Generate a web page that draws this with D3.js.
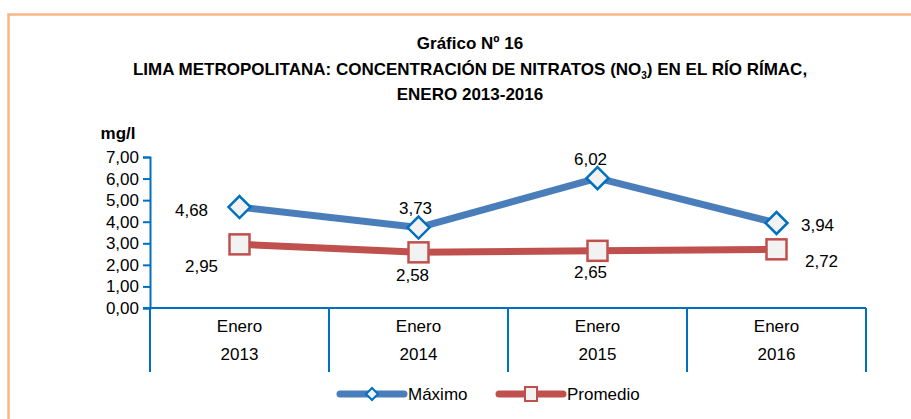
<!DOCTYPE html>
<html>
<head>
<meta charset="utf-8">
<script src="https://cdn.jsdelivr.net/npm/d3@7"></script>
<style>
	body { margin: 0; background: #ffffff; }
	svg text { font-family: "Liberation Sans Narrow", "Arial Narrow", "Liberation Sans", Arial, sans-serif; fill: #000; }
</style>
</head>
<body>
<div id="chart"></div>
<script>
// categories on the x axis (two lines each)
var months = ["Enero", "Enero", "Enero", "Enero"];
var years = ["2013", "2014", "2015", "2016"];

// series values (mg/l)
var maximo = [4.68, 3.73, 6.02, 3.94];
var promedio = [2.95, 2.58, 2.65, 2.72];

// y axis ticks
var yTicks = [0, 1, 2, 3, 4, 5, 6, 7];

// label placement for each point: [dx, dy] relative to the marker
var maxLabelOffset = [[-48, 3], [-3, -20], [-7, -19], [41, 2]];
var promLabelOffset = [[-38, 22], [-6, 23], [-7, 21], [45, 12]];

var width = 911, height = 419;
var margin = { left: 150, right: 45, top: 157, bottom: 111 };

var svg = d3.select("#chart").append("svg")
	.attr("width", width)
	.attr("height", height);

// orange frame round the chart
svg.append("path")
	.attr("d", "M8.5," + (height + 5) + " L8.5,14.5 L" + (width + 5) + ",14.5")
	.attr("fill", "none")
	.attr("stroke", "#FBB583")
	.attr("stroke-width", 2.5);

// titles
var titles = ["Gráfico Nº 16", null, "ENERO 2013-2016"];
svg.append("text")
	.attr("x", 470).attr("y", 49)
	.attr("text-anchor", "middle")
	.attr("font-size", 17).attr("font-weight", "bold")
	.text(titles[0]);

var t2 = svg.append("text")
	.attr("x", 470).attr("y", 75)
	.attr("text-anchor", "middle")
	.attr("font-size", 17).attr("font-weight", "bold");
t2.append("tspan").text("LIMA METROPOLITANA: CONCENTRACIÓN DE NITRATOS (NO");
t2.append("tspan").attr("font-size", 10).attr("dy", 4).text("3");
t2.append("tspan").attr("dy", -4).text(") EN EL RÍO RÍMAC,");

svg.append("text")
	.attr("x", 470).attr("y", 100)
	.attr("text-anchor", "middle")
	.attr("font-size", 17).attr("font-weight", "bold")
	.text(titles[2]);

// unit label
svg.append("text")
	.attr("x", 118).attr("y", 139)
	.attr("text-anchor", "middle")
	.attr("font-size", 17).attr("font-weight", "bold")
	.attr("font-family", "Liberation Sans, Arial, sans-serif")
	.text("mg/l");

// scales
var x = d3.scaleBand()
	.domain(years)
	.range([margin.left, width - margin.right]);

var y = d3.scaleLinear()
	.domain([0, 7])
	.range([height - margin.bottom, margin.top]);

var axisColor = "#0070C0";

// y axis
var yAxis = svg.append("g")
	.attr("transform", "translate(" + margin.left + ",0)")
	.call(d3.axisLeft(y).tickValues(yTicks).tickSize(7).tickPadding(4)
		.tickFormat(function (d) { return d3.format(".2f")(d).replace(".", ","); }));
yAxis.select(".domain").attr("stroke", axisColor).attr("stroke-width", 2);
yAxis.selectAll(".tick line").attr("stroke", axisColor).attr("stroke-width", 2);
yAxis.selectAll(".tick text")
	.attr("font-size", 17)
	.attr("fill", "#000")
	.attr("font-family", "Liberation Sans Narrow, Arial Narrow, sans-serif");

// x axis: baseline and category separators
var y0 = y(0);
svg.append("line")
	.attr("x1", margin.left - 7).attr("x2", width - margin.right)
	.attr("y1", y0).attr("y2", y0)
	.attr("stroke", axisColor).attr("stroke-width", 2);

var sepX = years.map(function (d) { return x(d); }).concat([x.range()[1]]);
svg.selectAll(".sep")
	.data(sepX)
	.enter().append("line")
	.attr("class", "sep")
	.attr("x1", function (d) { return d; }).attr("x2", function (d) { return d; })
	.attr("y1", y0).attr("y2", y0 + 64)
	.attr("stroke", axisColor).attr("stroke-width", 2);

svg.selectAll(".month")
	.data(years)
	.enter().append("text")
	.attr("x", function (d) { return x(d) + x.bandwidth() / 2; })
	.attr("y", y0 + 24)
	.attr("text-anchor", "middle")
	.attr("font-size", 17)
	.text(function (d, i) { return months[i]; });

svg.selectAll(".year")
	.data(years)
	.enter().append("text")
	.attr("x", function (d) { return x(d) + x.bandwidth() / 2; })
	.attr("y", y0 + 52)
	.attr("text-anchor", "middle")
	.attr("font-size", 17)
	.text(function (d) { return d; });

// series definitions
var series = [
	{ name: "Máximo", values: maximo, line: "#4A7EBB", mark: "#0070C0", shape: "diamond", offsets: maxLabelOffset },
	{ name: "Promedio", values: promedio, line: "#C0504D", mark: "#C0504D", shape: "square", offsets: promLabelOffset }
];

var cx = function (i) { return x(years[i]) + x.bandwidth() / 2; };

var line = d3.line()
	.x(function (d, i) { return cx(i); })
	.y(function (d) { return y(d); });

/**
 * draws a marker of the given shape
 */
function drawMarker(g, shape, color, px, py)
{
	if (shape === "diamond")
	{
		g.append("path")
			.attr("d", "M" + px + "," + (py - 11) + " L" + (px + 11) + "," + py +
				" L" + px + "," + (py + 11) + " L" + (px - 11) + "," + py + " Z")
			.attr("fill", "#F2F2F2")
			.attr("stroke", color)
			.attr("stroke-width", 2.5);
	}
	else
	{
		g.append("rect")
			.attr("x", px - 10).attr("y", py - 10)
			.attr("width", 20).attr("height", 20)
			.attr("fill", "#F2F2F2")
			.attr("stroke", color)
			.attr("stroke-width", 2.5);
	}
}

series.forEach(function (s) {
	var g = svg.append("g");
	g.append("path")
		.datum(s.values)
		.attr("d", line)
		.attr("fill", "none")
		.attr("stroke", s.line)
		.attr("stroke-width", 7)
		.attr("stroke-linejoin", "round");

	s.values.forEach(function (v, i) {
		drawMarker(g, s.shape, s.mark, cx(i), y(v));
	});

	g.selectAll(".lbl")
		.data(s.values)
		.enter().append("text")
		.attr("x", function (d, i) { return cx(i) + s.offsets[i][0]; })
		.attr("y", function (d, i) { return y(d) + s.offsets[i][1] + 6; })
		.attr("text-anchor", "middle")
		.attr("font-size", 17)
		.text(function (d) { return d3.format(".2f")(d).replace(".", ","); });
});

// legend
var legendY = 394;
var legendItems = [
	{ s: series[0], x1: 340, x2: 404, tx: 408 },
	{ s: series[1], x1: 499, x2: 563, tx: 567 }
];
legendItems.forEach(function (it) {
	var g = svg.append("g");
	g.append("line")
		.attr("x1", it.x1).attr("x2", it.x2)
		.attr("y1", legendY).attr("y2", legendY)
		.attr("stroke", it.s.line)
		.attr("stroke-width", 7)
		.attr("stroke-linecap", "round");
	var mx = (it.x1 + it.x2) / 2;
	if (it.s.shape === "diamond")
	{
		g.append("path")
			.attr("d", "M" + mx + "," + (legendY - 6) + " L" + (mx + 6) + "," + legendY +
				" L" + mx + "," + (legendY + 6) + " L" + (mx - 6) + "," + legendY + " Z")
			.attr("fill", "#F2F2F2").attr("stroke", it.s.mark).attr("stroke-width", 2);
	}
	else
	{
		g.append("rect")
			.attr("x", mx - 6).attr("y", legendY - 7)
			.attr("width", 12).attr("height", 14)
			.attr("fill", "#F2F2F2").attr("stroke", it.s.mark).attr("stroke-width", 2);
	}
	g.append("text")
		.attr("x", it.tx).attr("y", legendY + 6)
		.attr("font-size", 17)
		.text(it.s.name);
});
</script>
</body>
</html>
